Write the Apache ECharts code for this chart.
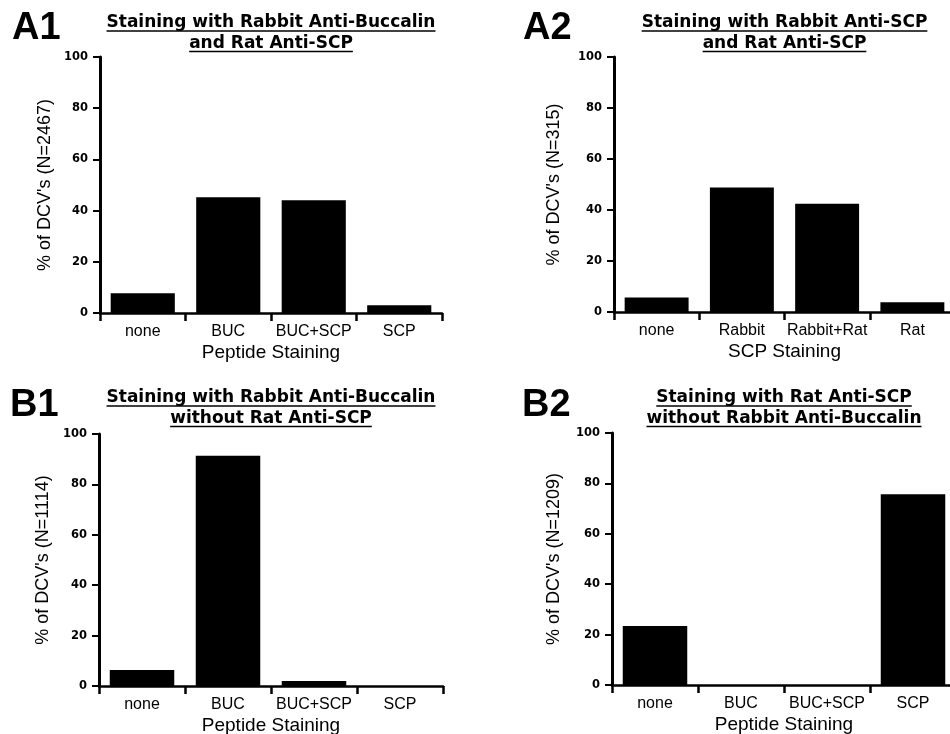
<!DOCTYPE html>
<html><head><meta charset="utf-8">
<script src="https://cdn.jsdelivr.net/npm/echarts@6/dist/echarts.min.js"></script>
<style>html,body{margin:0;padding:0;background:#fff}#c{width:950px;height:734px}</style>
</head><body><div id="c"></div>
<script>
// ---- data ----
const categoriesPeptide = ['none', 'BUC', 'BUC+SCP', 'SCP'];
const categoriesSCP = ['none', 'Rabbit', 'Rabbit+Rat', 'Rat'];
const valuesA1 = [7.7, 45.2, 44.0, 3.0];
const valuesA2 = [5.7, 48.8, 42.5, 3.8];
const valuesB1 = [6.3, 91.4, 2.0, 0];
const valuesB2 = [23.4, 0, 0, 75.7];
const yMin = 0, yMax = 100, yInterval = 20;
const panelLetters = ['A1', 'A2', 'B1', 'B2'];
const panelTitles = [
  ['Staining with Rabbit Anti-Buccalin', 'and Rat Anti-SCP'],
  ['Staining with Rabbit Anti-SCP', 'and Rat Anti-SCP'],
  ['Staining with Rabbit Anti-Buccalin', 'without Rat Anti-SCP'],
  ['Staining with Rat Anti-SCP', 'without Rabbit Anti-Buccalin']
];
const xAxisNames = ['Peptide Staining', 'SCP Staining', 'Peptide Staining', 'Peptide Staining'];
const yAxisNames = ["% of DCV's (N=2467)", "% of DCV's (N=315)", "% of DCV's (N=1114)", "% of DCV's (N=1209)"];

const panelCats = [categoriesPeptide, categoriesSCP, categoriesPeptide, categoriesPeptide];
const panelVals = [valuesA1, valuesA2, valuesB1, valuesB2];

// ---- layout (positions / styles only) ----
const layout = [
  {left: 100, top: 57, width: 342, height: 256, yNameGap: 46, letterX: 12, letterY: 10, titleY: [14.5, 35]},
  {left: 614, top: 57, width: 341, height: 255, yNameGap: 51, letterX: 523, letterY: 10, titleY: [14.5, 35]},
  {left: 99, top: 434, width: 344, height: 252, yNameGap: 47, letterX: 10, letterY: 387, titleY: [389.5, 410]},
  {left: 612, top: 433, width: 344, height: 252, yNameGap: 49, letterX: 522, letterY: 387, titleY: [389.5, 410]}
];
const SANS = '"Liberation Sans", Arial, Helvetica, sans-serif';
const DEJA = '"DejaVu Sans", sans-serif';
const titleFont = 'bold 17px ' + DEJA;
const letterFont = 'bold 38px ' + SANS;

const measureCtx = document.createElement('canvas').getContext('2d');
function textWidth(t, font) { measureCtx.font = font; return measureCtx.measureText(t).width; }

const grids = [], xAxes = [], yAxes = [], series = [], graphics = [];
layout.forEach((L, i) => {
  grids.push({left: L.left, top: L.top, width: L.width, height: L.height, containLabel: false, outerBoundsMode: 'none'});
  xAxes.push({
    type: 'category', gridIndex: i, data: panelCats[i], boundaryGap: true,
    axisLine: {show: true, onZero: false, lineStyle: {color: '#000', width: 2.5}},
    axisTick: {show: true, length: 8, inside: false, lineStyle: {color: '#000', width: 2.5}},
    axisLabel: {color: '#000', fontFamily: SANS, fontSize: 16, margin: 11, interval: 0},
    splitLine: {show: false},
    name: xAxisNames[i], nameLocation: 'middle', nameGap: 30,
    nameTextStyle: {color: '#000', fontFamily: SANS, fontSize: 19}
  });
  yAxes.push({
    type: 'value', gridIndex: i, min: yMin, max: yMax, interval: yInterval,
    axisLine: {show: true, lineStyle: {color: '#000', width: 3}},
    axisTick: {show: true, length: 7, lineStyle: {color: '#000', width: 2}},
    axisLabel: {color: '#000', fontFamily: DEJA, fontSize: 11.5, fontWeight: 'bold', margin: 12},
    splitLine: {show: false},
    name: yAxisNames[i], nameLocation: 'middle', nameGap: L.yNameGap, nameRotate: 90,
    nameTextStyle: {color: '#000', fontFamily: SANS, fontSize: 18}
  });
  series.push({
    type: 'bar', xAxisIndex: i, yAxisIndex: i, data: panelVals[i], barWidth: '75%',
    itemStyle: {color: '#000'}, emphasis: {disabled: true}, silent: true
  });
  // panel letter
  graphics.push({type: 'text', x: L.letterX, y: L.letterY,
    style: {text: panelLetters[i], font: letterFont, fill: '#000', textAlign: 'left', align: 'left', textVerticalAlign: 'top', verticalAlign: 'top'}});
  // titles with underline
  const cx = L.left + L.width / 2;
  panelTitles[i].forEach((line, k) => {
    const ty = L.titleY[k];
    graphics.push({type: 'text', x: cx, y: ty,
      style: {text: line, font: titleFont, fill: '#000', textAlign: 'center', align: 'center', textVerticalAlign: 'top', verticalAlign: 'top'}});
    const w = textWidth(line, titleFont);
    graphics.push({type: 'line', shape: {x1: cx - w / 2, y1: ty + 16.5, x2: cx + w / 2, y2: ty + 16.5},
      style: {stroke: '#000', lineWidth: 1.5}});
  });
});

const chart = echarts.init(document.getElementById('c'), null, {renderer: 'canvas'});
chart.setOption({
  animation: false,
  backgroundColor: '#fff',
  grid: grids, xAxis: xAxes, yAxis: yAxes, series: series,
  graphic: {elements: graphics}
});
</script></body></html>
